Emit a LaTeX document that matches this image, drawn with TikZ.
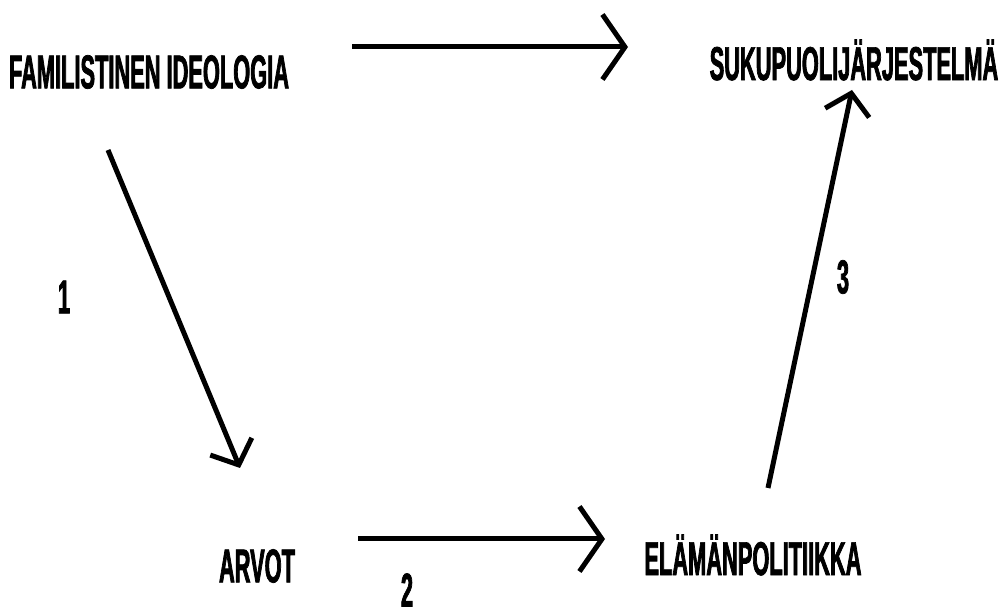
\documentclass[tikz,border=0pt]{standalone}
\usepackage{fontspec}
\usetikzlibrary{arrows.meta}
\newfontfamily\narrowfont[FakeStretch=0.46,FakeBold=1.5]{Liberation Sans Bold}
\tikzset{
  lbl/.style={font=\narrowfont\fontsize{27}{30}\selectfont, inner sep=0pt},
  bigarr/.style={line width=0.1cm, -{Straight Barb[length=0.45cm, width=1.3cm]}},
  smallarr/.style={line width=0.1cm, -{Straight Barb[length=0.4cm, width=0.9cm]}}
}

\begin{document}
\begin{tikzpicture}[x=0.02cm,y=-0.02cm]
	\useasboundingbox (0,0) rectangle (1005,614);
	% texts
	\node[lbl] (fam) at (149,72) {FAMILISTINEN IDEOLOGIA};
	\node[lbl] (suk) at (854,60) {SUKUPUOLIJÄRJESTELMÄ};
	\node[lbl] (arv) at (257,566) {ARVOT};
	\node[lbl] (ela) at (753,555) {ELÄMÄNPOLITIIKKA};
	\node[lbl] (n1) at (64,297) {1};
	\node[lbl] (n2) at (407,590) {2};
	\node[lbl] (n3) at (843,277) {3};
	% arrow ends
	\coordinate (t0) at (352,47);
	\coordinate (t1) at (628,47);
	\coordinate (a0) at (108,150);
	\coordinate (a1) at (240,468);
	\coordinate (b0) at (358,539);
	\coordinate (b1) at (605,539);
	\coordinate (c0) at (768,488);
	\coordinate (c1) at (852,90);
	% arrows
	\draw[bigarr] (t0) -- (t1);
	\draw[smallarr] (a0) -- (a1);
	\draw[bigarr] (b0) -- (b1);
	\draw[smallarr] (c0) -- (c1);
\end{tikzpicture}
\end{document}
